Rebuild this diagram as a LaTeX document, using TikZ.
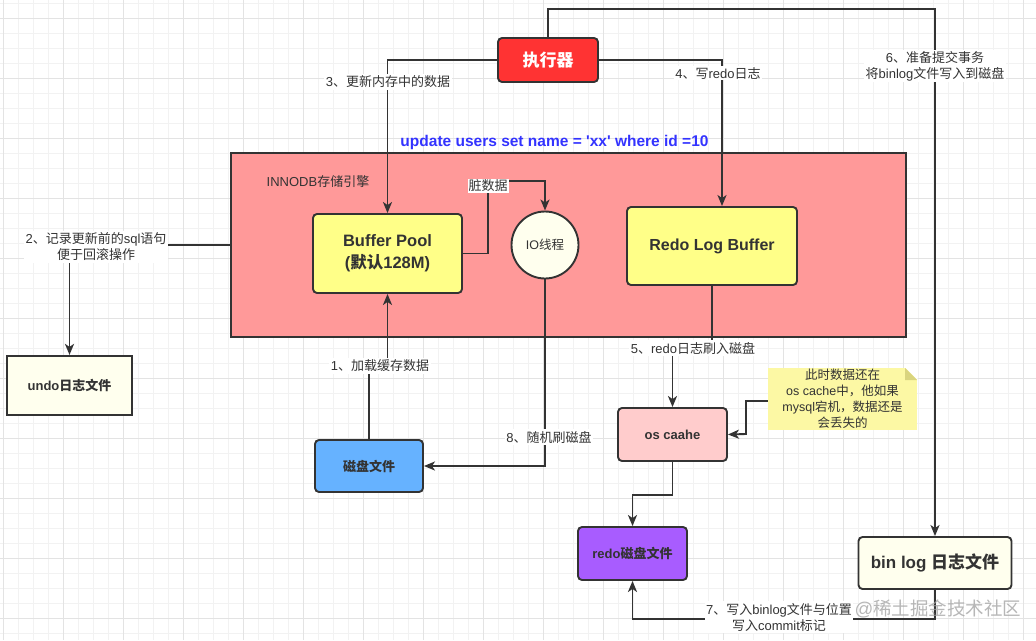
\documentclass[tikz,border=0pt]{standalone}
\usepackage{fontspec}
\setmainfont{Liberation Sans}
\newfontfamily\cjkf{Noto Sans CJK SC}
\newfontfamily\sqlf{Liberation Sans}
\newcommand\zh[1]{{\cjkf #1}}
\usetikzlibrary{arrows.meta}
\definecolor{lc}{HTML}{333333}
\definecolor{gridmin}{HTML}{F2F2F2}
\definecolor{gridmaj}{HTML}{E3E3E3}
\definecolor{execred}{HTML}{FF3333}
\definecolor{innodbc}{HTML}{FF9999}
\definecolor{bufy}{HTML}{FFFF88}
\definecolor{ivory}{HTML}{FFFFEE}
\definecolor{diskb}{HTML}{66B2FF}
\definecolor{osc}{HTML}{FFCCCC}
\definecolor{redop}{HTML}{A85CFF}
\definecolor{notey}{HTML}{FCF8A4}
\definecolor{notef}{HTML}{D9D47E}
\definecolor{sqlblue}{HTML}{3333FF}
\tikzset{
  box/.style={draw=lc, line width=1.9pt, rounded corners=4pt, text=lc, align=center,
    font=\bfseries\fontsize{13}{16}\selectfont},
  conn/.style={draw=lc, line width=1.9pt, -{Stealth[length=11pt,width=9pt,inset=3pt]}},
  lbl/.style={fill=white, inner sep=1.5pt, text=lc, align=center,
    font=\fontsize{13}{16}\selectfont},
}
\begin{document}
\begin{tikzpicture}[x=1pt,y=-1pt]
\useasboundingbox (0,0) rectangle (1036,640);
\fill[white] (0,0) rectangle (1036,640);
% grid
\foreach \gx in {3,18,...,1036} \draw[gridmin, line width=0.8pt] (\gx,0) -- (\gx,640);
\foreach \gy in {3,18,...,640} \draw[gridmin, line width=0.8pt] (0,\gy) -- (1036,\gy);
\foreach \gx in {3,63,...,1036} \draw[gridmaj, line width=0.8pt] (\gx,0) -- (\gx,640);
\foreach \gy in {18,78,...,640} \draw[gridmaj, line width=0.8pt] (0,\gy) -- (1036,\gy);

% InnoDB container
\node[draw=lc, line width=1.9pt, fill=innodbc, minimum width=675pt, minimum height=184pt, inner sep=0pt] (innodb) at (568.5,245) {};
\node[text=lc, font=\fontsize{13}{16}\selectfont] (innodbl) at (318,182) {INNODB\zh{存储引擎}};

% SQL text
\node[text=sqlblue, font=\sqlf\bfseries\fontsize{15.5}{18}\selectfont] (sql) at (554.5,142) {update users set name = 'xx' where id =10};

% nodes
\node[box, fill=execred, text=white, minimum width=100pt, minimum height=44pt, font=\bfseries\fontsize{17}{20}\selectfont] (exec) at (548,60) {\zh{执行器}};
\node[box, fill=bufy, minimum width=149pt, minimum height=79pt, font=\bfseries\fontsize{16.5}{22}\selectfont] (bp) at (387.5,253.5) {Buffer Pool\\(\zh{默认}128M)};
\node[draw=lc, line width=1.9pt, circle, fill=ivory, minimum size=67pt, inner sep=0pt, text=lc, font=\fontsize{12.5}{15}\selectfont] (io) at (545,245) {IO\zh{线程}};
\node[box, fill=bufy, minimum width=170pt, minimum height=78pt, font=\bfseries\fontsize{16}{20}\selectfont] (redo) at (712,246) {Redo Log Buffer};
\node[box, rounded corners=0pt, line width=2.2pt, fill=ivory, minimum width=125pt, minimum height=59pt] (undo) at (69.5,385.5) {undo\zh{日志文件}};
\node[box, fill=diskb, minimum width=108pt, minimum height=52pt] (disk) at (369,466) {\zh{磁盘文件}};
\node[box, fill=osc, minimum width=109pt, minimum height=53pt] (oscache) at (672.5,434.5) {os caahe};
\node[box, fill=redop, minimum width=109pt, minimum height=53pt] (redodisk) at (632.5,553.5) {redo\zh{磁盘文件}};
\node[box, fill=ivory, minimum width=153pt, minimum height=52pt, font=\bfseries\fontsize{17}{20}\selectfont] (binlog) at (935,563) {bin log \zh{日志文件}};

% note
\node[fill=notey, minimum width=149pt, minimum height=62pt, inner sep=0pt, text=lc, align=center, font=\fontsize{12.5}{16}\selectfont] (note) at (842.5,399) {\zh{此时数据还在}\\os cache\zh{中，他如果}\\mysql\zh{宕机，数据还是}\\\zh{会丢失的}};
\fill[white] (905,367.5) -- (917.5,367.5) -- (917.5,380) -- cycle;
\fill[notef] (905,368) -- (905,380) -- (917,380) -- cycle;

% connectors
\draw[conn] (exec.west) -| (bp.north);
\draw[conn] (exec.east) -| ([xshift=10pt]redo.north);
\draw[conn] (exec.north) |- (700,9) -| (binlog.north);
\draw[conn] (bp.east) -| (488,181) -| (io.north);
\draw[conn] (io.south) |- (disk.east);
\draw[conn] (disk.north) |- (378,366) -| (bp.south);
\draw[conn] (innodb.west) -| (undo.north);
\draw[conn] (redo.south) -- ++(0,63) -| (oscache.north);
\draw[conn] ([yshift=-2pt]note.west) -| (746,434) -- (oscache.east);
\draw[conn] (oscache.south) -- ++(0,33) -| (redodisk.north);
\draw[conn] (binlog.south) -- ++(0,29) -| (redodisk.south);

% labels
\node[lbl] (l3) at (388,82) {3\zh{、更新内存中的数据}};
\node[lbl] (l4) at (718,73) {4\zh{、写}redo\zh{日志}};
\node[lbl] (l6) at (935,66) {6\zh{、准备提交事务}\\\zh{将}binlog\zh{文件写入到磁盘}};
\node[lbl, inner sep=1pt] (ldirty) at (488,186) {\zh{脏数据}};
\node[lbl] (l2) at (96,247) {2\zh{、记录更新前的}sql\zh{语句}\\\zh{便于回滚操作}};
\node[lbl] (l1) at (380,366) {1\zh{、加载缓存数据}};
\node[lbl] (l5) at (693,348) {5\zh{、}redo\zh{日志刷入磁盘}};
\node[lbl] (l8) at (549,437) {8\zh{、随机刷磁盘}};
\node[lbl] (l7) at (779,617) {7\zh{、写入}binlog\zh{文件与位置}\\\zh{写入}commit\zh{标记}};

% watermark
\node[text=gray!75, opacity=0.75, font=\fontsize{18.5}{20}\selectfont] (wm) at (938,609) {@\zh{稀土掘金技术社区}};
\end{tikzpicture}
\end{document}
